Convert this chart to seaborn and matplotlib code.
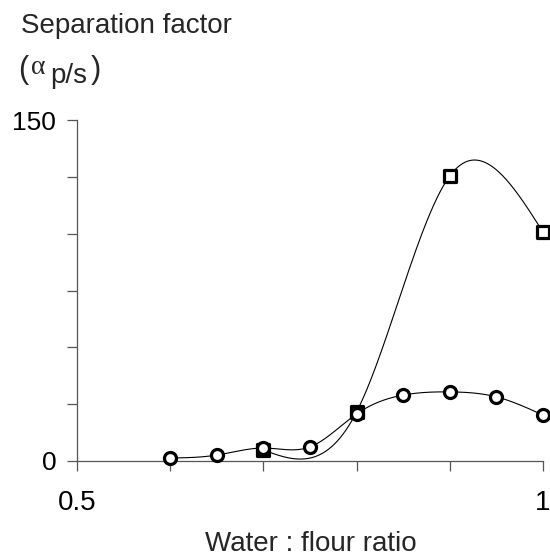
import numpy as np
import pandas as pd
import matplotlib
matplotlib.use("Agg")
import matplotlib.pyplot as plt
import seaborn as sns

# values
ratio_circle = [0.60, 0.65, 0.70, 0.75, 0.80, 0.85, 0.90, 0.95, 1.00]
alpha_circle = [1.3, 2.6, 5.7, 6.2, 20.7, 29.0, 30.4, 28.2, 20.2]

ratio_square = [0.70, 0.80, 0.90, 1.00]
alpha_square = [4.8, 21.6, 125.4, 100.7]

x_ticks = [0.5, 0.6, 0.7, 0.8, 0.9, 1.0]
x_labels = ["0.5", "", "", "", "", "1"]
y_ticks = [0, 25, 50, 75, 100, 125, 150]
y_labels = ["0", "", "", "", "", "", "150"]


def natural_spline(x, y, n=300):
    # natural cubic spline, only used to draw the smooth connecting line
    x = np.asarray(x, float)
    y = np.asarray(y, float)
    h = np.diff(x)
    k = len(x)
    A = np.zeros((k, k))
    b = np.zeros(k)
    A[0, 0] = 1
    A[-1, -1] = 1
    for i in range(1, k - 1):
        A[i, i - 1] = h[i - 1]
        A[i, i] = 2 * (h[i - 1] + h[i])
        A[i, i + 1] = h[i]
        b[i] = 6 * ((y[i + 1] - y[i]) / h[i] - (y[i] - y[i - 1]) / h[i - 1])
    M = np.linalg.solve(A, b)
    xs = np.linspace(x[0], x[-1], n)
    idx = np.clip(np.searchsorted(x, xs) - 1, 0, k - 2)
    x0, x1 = x[idx], x[idx + 1]
    hh = x1 - x0
    t0, t1 = x1 - xs, xs - x0
    ys = (M[idx] * t0**3 + M[idx + 1] * t1**3) / (6 * hh) \
        + (y[idx] / hh - M[idx] * hh / 6) * t0 \
        + (y[idx + 1] / hh - M[idx + 1] * hh / 6) * t1
    return xs, ys


sns.set_style("white")
plt.rcParams["font.family"] = ["Liberation Sans", "DejaVu Sans"]

fig = plt.figure(figsize=(5.5, 5.59), dpi=100)
ax = fig.add_axes([77 / 550, 1 - 461 / 559, 466 / 550, 341 / 559])

xs, ys = natural_spline(ratio_square, alpha_square)
sns.lineplot(x=xs, y=ys, ax=ax, color="black", linewidth=0.8, sort=False)
xs, ys = natural_spline(ratio_circle, alpha_circle)
sns.lineplot(x=xs, y=ys, ax=ax, color="black", linewidth=0.8, sort=False)

sns.scatterplot(x=ratio_square, y=alpha_square, ax=ax, marker="s", s=75,
                facecolor="white", edgecolor="black", linewidth=2.3, zorder=3)
sns.scatterplot(x=ratio_circle, y=alpha_circle, ax=ax, marker="o", s=75,
                facecolor="white", edgecolor="black", linewidth=2.3, zorder=4)

for coll in ax.collections:
    coll.set_clip_on(False)
for line in ax.lines:
    line.set_clip_on(False)

ax.set_xlim(0.5, 1.0)
ax.set_ylim(0, 150)
ax.set_xticks(x_ticks)
ax.set_xticklabels(x_labels)
ax.set_yticks(y_ticks)
ax.set_yticklabels(y_labels)

sns.despine(ax=ax)
for side in ["left", "bottom"]:
    ax.spines[side].set_color("#555555")
    ax.spines[side].set_linewidth(0.9)
ax.tick_params(axis="both", direction="out", length=7, width=0.9,
               color="#555555", labelsize=19, labelcolor="black",
               bottom=True, left=True)
ax.tick_params(axis="x", pad=14, labelsize=20)
ax.tick_params(axis="y", pad=8)

fig.text(21 / 550, 1 - 33 / 559, "Separation factor", fontsize=20,
         va="baseline", ha="left")
fig.text(18 / 550, 1 - 78 / 559, "(", fontsize=22, va="baseline", ha="left")
fig.text(31 / 550, 1 - 74 / 559, "α", fontsize=20, va="baseline", ha="left",
         family=["Liberation Serif", "DejaVu Serif"])
fig.text(50 / 550, 1 - 83 / 559, "p/s", fontsize=20, va="baseline", ha="left")
fig.text(91 / 550, 1 - 78 / 559, ")", fontsize=22, va="baseline", ha="left")

fig.text(311 / 550, 1 - 544 / 559, "Water : flour ratio", fontsize=20,
         va="center", ha="center")

fig.savefig("out.png", dpi=100)
